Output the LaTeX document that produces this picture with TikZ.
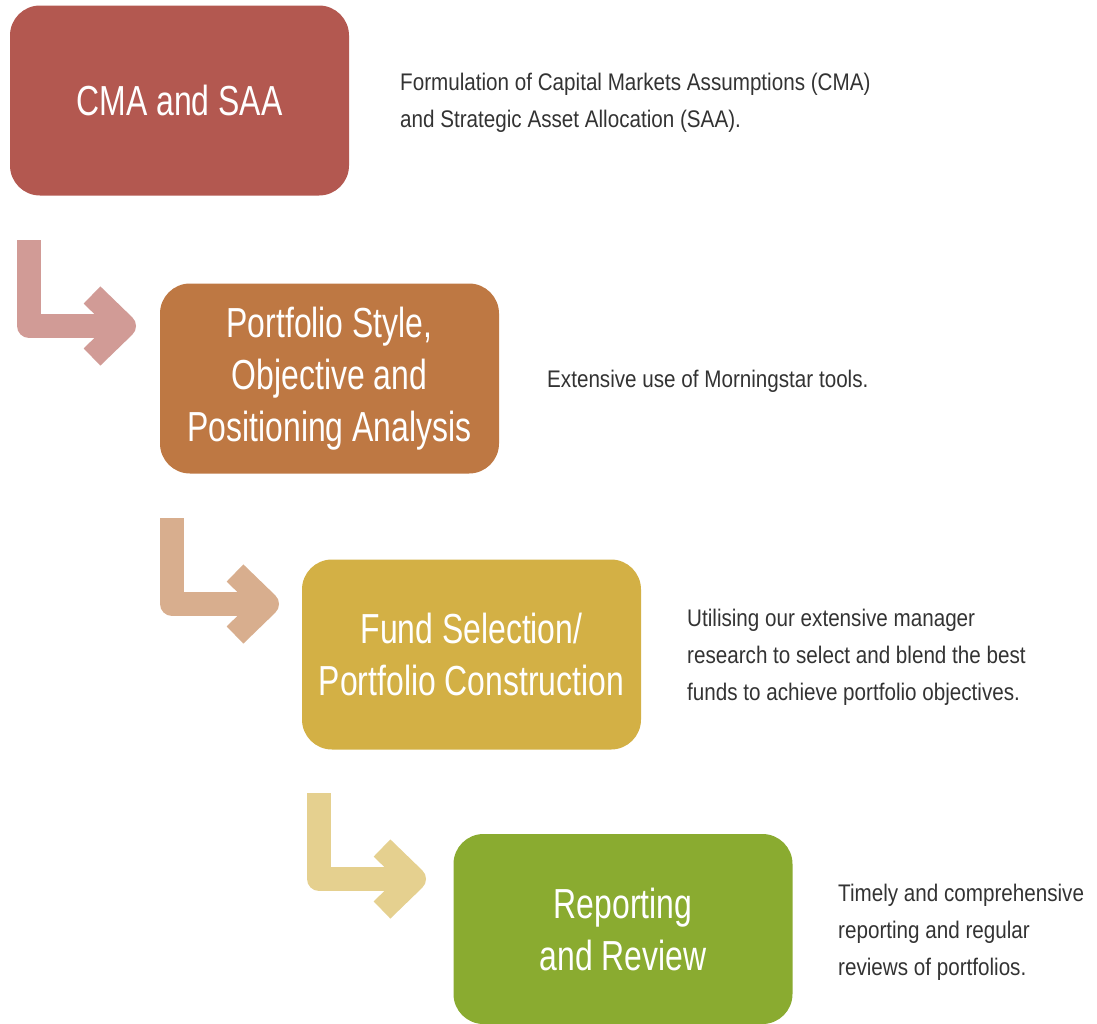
\documentclass[tikz,border=0pt]{standalone}
\usepackage{fontspec}
\setmainfont{Liberation Sans}[FakeStretch=0.76]
\newfontfamily\notefont{Liberation Sans}[FakeStretch=0.86]
\definecolor{cmared}{HTML}{B35850}
\definecolor{portorange}{HTML}{BE7843}
\definecolor{fundyellow}{HTML}{D3B045}
\definecolor{reviewgreen}{HTML}{8AAB30}
\begin{document}
\begin{tikzpicture}[x=1pt,y=-1pt,line join=round,
	box/.style={rounded corners=30pt,minimum width=339pt,minimum height=190pt,text=white,align=center,font=\fontsize{42}{52}\selectfont},
	note/.style={anchor=west,inner sep=0pt,align=left,text=black!80,font=\notefont\fontsize{24}{37}\selectfont}]
	\useasboundingbox (0,0) rectangle (1097,1023);
	% steps
	\node[box,fill=cmared] (cma) at (179.5,100.5) {CMA and SAA};
	\node[box,fill=portorange] (style) at (329.5,378.5) {Portfolio Style,\\Objective and\\Positioning Analysis};
	\node[box,fill=fundyellow] (fund) at (471.5,654.5) {Fund Selection/\\Portfolio Construction};
	\node[box,fill=reviewgreen] (review) at (623,929) {Reporting\\and Review};
	% notes
	\node[note] (cmanote) at (400,103) {Formulation of Capital Markets Assumptions (CMA)\\and Strategic Asset Allocation (SAA).};
	\node[note] (stylenote) at (547,381) {Extensive use of Morningstar tools.};
	\node[note] (fundnote) at (687,657) {Utilising our extensive manager\\research to select and blend the best\\funds to achieve portfolio objectives.};
	\node[note] (reviewnote) at (838,932) {Timely and comprehensive\\reporting and regular\\reviews of portfolios.};
	% bent arrows
	\foreach \dx/\dy/\col in {0/0/cmared,143/278/portorange,290/553/fundyellow}{
		\begin{scope}[shift={(\dx,\dy)},line width=24pt,draw=\col!60]
			\draw (29,240) |- (122,326);
			\draw (92,295) -- (124,326) -- (92,357);
		\end{scope}
	}
\end{tikzpicture}
\end{document}
